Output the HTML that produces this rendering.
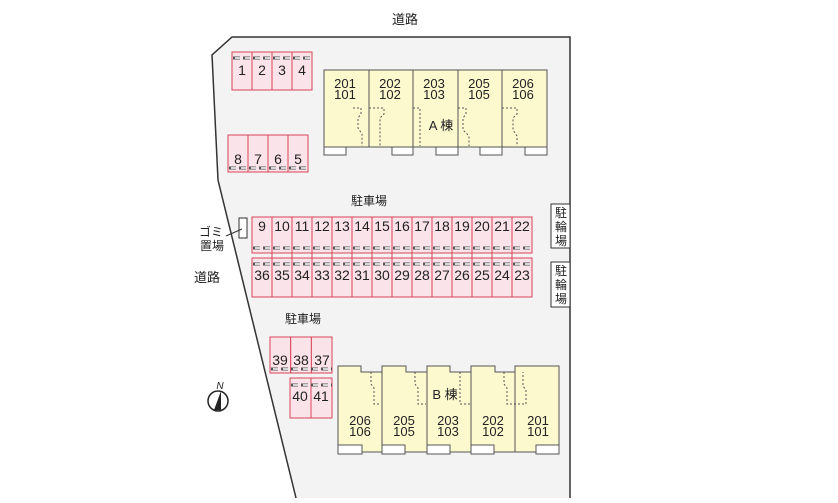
<!DOCTYPE html>
<html><head><meta charset="utf-8"><style>
html,body{margin:0;padding:0;background:#fff}
svg text{font-family:"Liberation Sans","Noto Sans CJK JP",sans-serif;fill:#222}
</style></head><body>
<svg width="838" height="498" viewBox="0 0 838 498" xmlns="http://www.w3.org/2000/svg">
<polygon points="232,37 570,37 570,498 296,498 218,180 212,55" fill="#f3f3f3"/>
<polyline points="570,498 570,37 232,37 212,55 218,180 296,498" fill="none" stroke="#333" stroke-width="1.5"/>
<text x="405" y="24" font-size="13" text-anchor="middle">道路</text>
<text x="207" y="282" font-size="13" text-anchor="middle">道路</text>
<text x="369" y="205" font-size="12" text-anchor="middle">駐車場</text>
<text x="303" y="323" font-size="12" text-anchor="middle">駐車場</text>

<g fill="#fbe3ea" stroke="#d9455a" stroke-width="1">
<rect x="232" y="52" width="20" height="38"/><rect x="252" y="52" width="20" height="38"/><rect x="272" y="52" width="20" height="38"/><rect x="292" y="52" width="20" height="38"/>
<rect x="228" y="135" width="20" height="37"/><rect x="248" y="135" width="20" height="37"/><rect x="268" y="135" width="20" height="37"/><rect x="288" y="135" width="20" height="37"/>
<rect x="252" y="217" width="280" height="36"/><rect x="252" y="258" width="280" height="39"/>
<rect x="270" y="337" width="20.7" height="36"/><rect x="290.7" y="337" width="20.7" height="36"/><rect x="311.4" y="337" width="20.6" height="36"/>
<rect x="290" y="378" width="21" height="40"/><rect x="311" y="378" width="21" height="40"/>
</g>
<g stroke="#d9455a" stroke-width="1">
<line x1="272" y1="217" x2="272" y2="297"/><line x1="292" y1="217" x2="292" y2="297"/><line x1="312" y1="217" x2="312" y2="297"/><line x1="332" y1="217" x2="332" y2="297"/><line x1="352" y1="217" x2="352" y2="297"/><line x1="372" y1="217" x2="372" y2="297"/><line x1="392" y1="217" x2="392" y2="297"/><line x1="412" y1="217" x2="412" y2="297"/><line x1="432" y1="217" x2="432" y2="297"/><line x1="452" y1="217" x2="452" y2="297"/><line x1="472" y1="217" x2="472" y2="297"/><line x1="492" y1="217" x2="492" y2="297"/><line x1="512" y1="217" x2="512" y2="297"/>
</g>
<g stroke="#555" stroke-width="3" stroke-dasharray="7,3">
<line x1="233" y1="58" x2="312" y2="58"/>
<line x1="229" y1="168" x2="308" y2="168"/>
<line x1="253" y1="248" x2="532" y2="248"/>
<line x1="253" y1="264" x2="532" y2="264"/>
<line x1="271" y1="369" x2="332" y2="369"/>
<line x1="291" y1="385" x2="332" y2="385"/>
</g>
<g stroke="#fff" stroke-width="1.4" stroke-dasharray="5,5" stroke-dashoffset="-1">
<line x1="234" y1="58" x2="312" y2="58"/>
<line x1="230" y1="168" x2="308" y2="168"/>
<line x1="254" y1="248" x2="532" y2="248"/>
<line x1="254" y1="264" x2="532" y2="264"/>
<line x1="272" y1="369" x2="332" y2="369"/>
<line x1="292" y1="385" x2="332" y2="385"/>
</g>
<g font-size="14" text-anchor="middle">
<text x="242" y="75">1</text><text x="262" y="75">2</text><text x="282" y="75">3</text><text x="302" y="75">4</text>
<text x="238" y="164">8</text><text x="258" y="164">7</text><text x="278" y="164">6</text><text x="298" y="164">5</text>
<text x="262" y="231">9</text><text x="282" y="231">10</text><text x="302" y="231">11</text><text x="322" y="231">12</text><text x="342" y="231">13</text><text x="362" y="231">14</text><text x="382" y="231">15</text><text x="402" y="231">16</text><text x="422" y="231">17</text><text x="442" y="231">18</text><text x="462" y="231">19</text><text x="482" y="231">20</text><text x="502" y="231">21</text><text x="522" y="231">22</text>
<text x="262" y="280">36</text><text x="282" y="280">35</text><text x="302" y="280">34</text><text x="322" y="280">33</text><text x="342" y="280">32</text><text x="362" y="280">31</text><text x="382" y="280">30</text><text x="402" y="280">29</text><text x="422" y="280">28</text><text x="442" y="280">27</text><text x="462" y="280">26</text><text x="482" y="280">25</text><text x="502" y="280">24</text><text x="522" y="280">23</text>
<text x="280" y="365">39</text><text x="301" y="365">38</text><text x="322" y="365">37</text>
<text x="300" y="401">40</text><text x="321" y="401">41</text>
</g>

<rect x="324" y="70" width="223" height="77" fill="#fdf9cf" stroke="#555" stroke-width="1"/>
<g stroke="#555"><line x1="369" y1="70" x2="369" y2="147"/><line x1="413" y1="70" x2="413" y2="147"/><line x1="458" y1="70" x2="458" y2="147"/><line x1="502" y1="70" x2="502" y2="147"/></g>
<g fill="#fff" stroke="#555"><rect x="324" y="147" width="22" height="8"/><rect x="392" y="147" width="21" height="8"/><rect x="436" y="147" width="22" height="8"/><rect x="480" y="147" width="22" height="8"/><rect x="525" y="147" width="22" height="8"/></g>
<g fill="none" stroke="#555" stroke-dasharray="2,2">
<path d="M353,108 H361 V114 L358,118 V128 L362,134 V146"/>
<path d="M369,108 H384 V114 L380,118 V146"/>
<path d="M413,108 H420 V146"/>
<path d="M458,108 H466 V114 L463,118 V130 L469,136 V146"/>
<path d="M502,108 H517 V114 L513,118 V130 L517,136 V146"/>
</g>
<g font-size="13" text-anchor="middle">
<text x="345" y="88">201</text><text x="345" y="99">101</text>
<text x="390" y="88">202</text><text x="390" y="99">102</text>
<text x="434" y="88">203</text><text x="434" y="99">103</text>
<text x="479" y="88">205</text><text x="479" y="99">105</text>
<text x="523" y="88">206</text><text x="523" y="99">106</text>
<text x="441" y="130" font-size="13">A 棟</text>
</g>

<path d="M338,366 H361 V372 H382 V366 H406 V372 H427 V366 H450 V372 H471 V366 H495 V372 H515 V366 H559 V452 H338 Z" fill="#fdf9cf" stroke="#555"/>
<g stroke="#555"><line x1="382" y1="372" x2="382" y2="452"/><line x1="427" y1="372" x2="427" y2="452"/><line x1="471" y1="372" x2="471" y2="452"/><line x1="515" y1="372" x2="515" y2="452"/></g>
<g fill="#fff" stroke="#555"><rect x="338" y="445" width="24" height="9"/><rect x="382" y="445" width="23" height="9"/><rect x="427" y="445" width="23" height="9"/><rect x="471" y="445" width="23" height="9"/><rect x="536" y="445" width="23" height="9"/></g>
<g fill="none" stroke="#555" stroke-dasharray="2,2">
<path d="M371,372 V384 L374,388 V404 H381"/>
<path d="M415,372 V384 L418,388 V404 H426"/>
<path d="M460,372 V404 H470"/>
<path d="M504,372 V384 L507,388 V404 H514 H526 V390 L523,386 V372"/>
</g>
<g font-size="13" text-anchor="middle">
<text x="360" y="425">206</text><text x="360" y="436">106</text>
<text x="404" y="425">205</text><text x="404" y="436">105</text>
<text x="448" y="425">203</text><text x="448" y="436">103</text>
<text x="493" y="425">202</text><text x="493" y="436">102</text>
<text x="538" y="425">201</text><text x="538" y="436">101</text>
<text x="445" y="399" font-size="13">B 棟</text>
</g>

<rect x="239" y="218" width="8" height="20" fill="#fff" stroke="#333"/>
<line x1="226" y1="236" x2="242" y2="229" stroke="#333"/>
<text x="211" y="236" font-size="12" text-anchor="middle">ゴミ</text>
<text x="212" y="250" font-size="12" text-anchor="middle">置場</text>

<rect x="551" y="204" width="19" height="44" fill="#fff" stroke="#333"/>
<rect x="551" y="262" width="19" height="45" fill="#fff" stroke="#333"/>
<g font-size="12" text-anchor="middle"><text x="561" y="217">駐</text><text x="561" y="231">輪</text><text x="561" y="245">場</text>
<text x="561" y="275">駐</text><text x="561" y="289">輪</text><text x="561" y="303">場</text></g>

<circle cx="218" cy="401" r="10" fill="#fff" stroke="#222" stroke-width="1.5"/>
<polygon points="221,391 214,410 221,410" fill="#222"/>
<text x="220" y="389" font-size="10" font-style="italic" text-anchor="middle">N</text>
</svg>
</body></html>
